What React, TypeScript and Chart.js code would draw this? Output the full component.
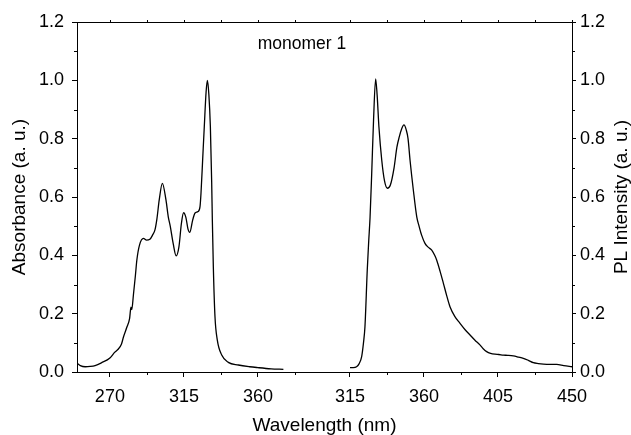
import { useEffect, useRef } from "react";
import { Chart, registerables } from "chart.js";

Chart.register(...registerables);

// ---- data (wavelength in nm, normalised intensity) ----
const absWavelength = [
  250, 252, 255, 258, 261, 265, 270, 273, 275, 277, 278.3, 280.4, 282, 282.8, 283.3, 284.3,
  285.5, 286.4, 288, 290.4, 292.3, 294.3, 296, 297.4, 298.6, 300, 301.9, 304.1, 305.5, 306.7,
  308.5, 310.3, 312, 313.5, 314.8, 316.2, 317.5, 318.6, 320.3, 321.8, 323.6, 324.8, 325.4,
  326.4, 327.4, 328.5, 329.3, 330.2, 331.1, 331.9, 332.3, 332.9, 333.9, 335.3, 338, 342,
  348.1, 355, 360, 368, 375.5,
];
const absValues = [
  0.03, 0.022, 0.018, 0.019, 0.022, 0.032, 0.048, 0.068, 0.078, 0.095, 0.121, 0.155, 0.184,
  0.222, 0.214, 0.264, 0.33, 0.384, 0.435, 0.458, 0.452, 0.455, 0.47, 0.487, 0.525, 0.59,
  0.647, 0.59, 0.532, 0.5, 0.44, 0.398, 0.43, 0.51, 0.546, 0.53, 0.49, 0.479, 0.52, 0.545,
  0.55, 0.567, 0.613, 0.727, 0.841, 0.96, 1.0, 0.95, 0.841, 0.65, 0.52, 0.361, 0.19, 0.11,
  0.058, 0.033, 0.024, 0.018, 0.015, 0.011, 0.009,
];

const plWavelength = [
  315, 317, 319, 320.5, 322.1, 323.2, 324.1, 325.5, 326.4, 327.2, 328.2, 329.3, 330.6, 331.5,
  332.6, 334.3, 336, 337.7, 339.5, 341.8, 343.5, 345, 346.5, 347.8, 349.2, 350.3, 351.5,
  353.5, 355.6, 357, 358.5, 360.6, 362.5, 364.7, 366.5, 367.7, 369.8, 371.8, 373.8, 375.8,
  378.8, 381.9, 385, 388, 391, 394, 396, 398.1, 400.5, 403.2, 405.5, 408.2, 411, 414.3,
  417.5, 420.4, 423.5, 426.5, 429.5, 432.6, 436.5, 440.7, 445, 450,
];
const plValues = [
  0.015, 0.015, 0.018, 0.028, 0.053, 0.1, 0.155, 0.35, 0.45, 0.53, 0.68, 0.86, 1.005, 0.95,
  0.84, 0.727, 0.655, 0.63, 0.64, 0.7, 0.77, 0.807, 0.835, 0.847, 0.83, 0.8, 0.727, 0.625,
  0.532, 0.5, 0.47, 0.441, 0.428, 0.418, 0.4, 0.384, 0.345, 0.304, 0.262, 0.224, 0.19, 0.167,
  0.145, 0.127, 0.109, 0.093, 0.08, 0.07, 0.064, 0.061, 0.06, 0.058, 0.057, 0.055, 0.051,
  0.047, 0.04, 0.032, 0.029, 0.027, 0.026, 0.026, 0.022, 0.018,
];

// broken x axis: two wavelength segments placed side by side
const absSegment = [250, 400]; // absorbance segment start / break
const plSegment = [315, 450]; // PL segment start / end
const plSegmentOffset = 166; // axis units where the PL segment starts

const absMajorTicks = [270, 315, 360];
const absMinorTicks = [292.5, 337.5, 382.5];
const plMajorTicks = [315, 360, 405, 450];
const plMinorTicks = [337.5, 382.5, 427.5];

const yMajorTicks = [0, 0.2, 0.4, 0.6, 0.8, 1.0, 1.2];
const yMinorTicks = [0.1, 0.3, 0.5, 0.7, 0.9, 1.1];

const absU = (w: number) => w - absSegment[0];
const plU = (w: number) => w - plSegment[0] + plSegmentOffset;
const axisMax = plU(plSegment[1]);

const majorU = [...absMajorTicks.map(absU), ...plMajorTicks.map(plU)];
const majorLabels = [...absMajorTicks, ...plMajorTicks].map(String);
const minorU = [...absMinorTicks.map(absU), ...plMinorTicks.map(plU)];

const FONT = "'Liberation Sans', Arial, Helvetica, sans-serif";

export default function App() {
  const ref = useRef<HTMLCanvasElement | null>(null);

  useEffect(() => {
    if (!ref.current) return;

    const decor = {
      id: "decor",
      afterDraw(chart: any) {
        const { ctx, chartArea } = chart;
        const x = chart.scales.x;
        const y = chart.scales.y;
        ctx.save();
        ctx.strokeStyle = "#000";
        ctx.lineWidth = 1;
        ctx.beginPath();
        // top border
        ctx.moveTo(chartArea.left, chartArea.top + 0.5);
        ctx.lineTo(chartArea.right, chartArea.top + 0.5);
        // minor x ticks (bottom)
        for (const u of minorU) {
          const px = Math.round(x.getPixelForValue(u)) + 0.5;
          ctx.moveTo(px, chartArea.bottom);
          ctx.lineTo(px, chartArea.bottom + 3);
        }
        // top ticks
        for (const u of [...majorU, ...minorU]) {
          const px = Math.round(x.getPixelForValue(u)) + 0.5;
          ctx.moveTo(px, chartArea.top);
          ctx.lineTo(px, chartArea.top - 2);
        }
        // minor y ticks
        for (const v of yMinorTicks) {
          const py = Math.round(y.getPixelForValue(v)) + 0.5;
          ctx.moveTo(chartArea.left - 3, py);
          ctx.lineTo(chartArea.left, py);
          ctx.moveTo(chartArea.right, py);
          ctx.lineTo(chartArea.right + 3, py);
        }
        ctx.stroke();

        ctx.fillStyle = "#000";
        ctx.textAlign = "center";
        ctx.textBaseline = "middle";
        ctx.font = `17.5px ${FONT}`;
        ctx.fillText("monomer 1", chartArea.left + 225, chartArea.top + 22);

        // right axis title, reading bottom-to-top
        ctx.font = `19px ${FONT}`;
        ctx.translate(chart.width - 9, (chartArea.top + chartArea.bottom) / 2);
        ctx.rotate(-Math.PI / 2);
        ctx.fillText("PL Intensity (a. u.)", 0, 0);
        ctx.restore();
      },
    };

    const tickFont = { family: FONT, size: 18 };

    const chart = new Chart(ref.current, {
      type: "line",
      data: {
        datasets: [
          {
            label: "Absorbance",
            data: absWavelength.map((w, i) => ({ x: absU(w), y: absValues[i] })),
            borderColor: "#000",
            borderWidth: 1.3,
            pointRadius: 0,
            cubicInterpolationMode: "monotone",
            yAxisID: "y",
          },
          {
            label: "PL",
            data: plWavelength.map((w, i) => ({ x: plU(w), y: plValues[i] })),
            borderColor: "#000",
            borderWidth: 1.3,
            pointRadius: 0,
            cubicInterpolationMode: "monotone",
            yAxisID: "y2",
          },
        ],
      },
      options: {
        animation: false,
        responsive: true,
        maintainAspectRatio: false,
        layout: { padding: { top: 22, left: 0, right: 0, bottom: 0 } },
        plugins: { legend: { display: false }, tooltip: { enabled: false } },
        scales: {
          x: {
            type: "linear",
            min: 0,
            max: axisMax,
            afterBuildTicks: (s: any) => {
              s.ticks = majorU.map((v) => ({ value: v }));
            },
            afterFit: (s: any) => {
              s.height = 63;
            },
            ticks: {
              color: "#000",
              font: tickFont,
              padding: 9,
              maxRotation: 0,
              autoSkip: false,
              callback: (v: any) => {
                const i = majorU.findIndex((u) => Math.abs(u - v) < 1e-6);
                return i >= 0 ? majorLabels[i] : "";
              },
            },
            grid: {
              drawOnChartArea: false,
              drawTicks: true,
              tickLength: 5,
              tickColor: "#000",
              tickWidth: 1,
            },
            border: { display: true, color: "#000", width: 1 },
            title: {
              display: true,
              text: "Wavelength (nm)",
              color: "#000",
              font: { family: FONT, size: 19, lineHeight: 1 },
              padding: { top: 0, bottom: 0 },
            },
          },
          y: {
            type: "linear",
            position: "left",
            min: 0,
            max: 1.2,
            afterBuildTicks: (s: any) => {
              s.ticks = yMajorTicks.map((v) => ({ value: v }));
            },
            afterFit: (s: any) => {
              s.width = 77;
            },
            ticks: {
              color: "#000",
              font: tickFont,
              padding: 8,
              callback: (v: any) => Number(v).toFixed(1),
            },
            grid: {
              drawOnChartArea: false,
              drawTicks: true,
              tickLength: 5,
              tickColor: "#000",
            },
            border: { display: true, color: "#000", width: 1 },
            title: {
              display: true,
              text: "Absorbance (a. u.)",
              color: "#000",
              font: { family: FONT, size: 19, lineHeight: 1 },
              padding: { top: 10, bottom: 0 },
            },
          },
          y2: {
            type: "linear",
            position: "right",
            min: 0,
            max: 1.2,
            afterBuildTicks: (s: any) => {
              s.ticks = yMajorTicks.map((v) => ({ value: v }));
            },
            afterFit: (s: any) => {
              s.width = 59;
            },
            ticks: {
              color: "#000",
              font: tickFont,
              padding: 4,
              callback: (v: any) => Number(v).toFixed(1),
            },
            grid: {
              drawOnChartArea: false,
              drawTicks: true,
              tickLength: 4,
              tickColor: "#000",
            },
            border: { display: true, color: "#000", width: 1 },
          },
        },
      },
      plugins: [decor],
    } as any);

    return () => chart.destroy();
  }, []);

  return (
    <div style={{ position: "fixed", left: 0, top: 0, width: 631, height: 435, background: "#fff" }}>
      <canvas ref={ref} />
    </div>
  );
}
